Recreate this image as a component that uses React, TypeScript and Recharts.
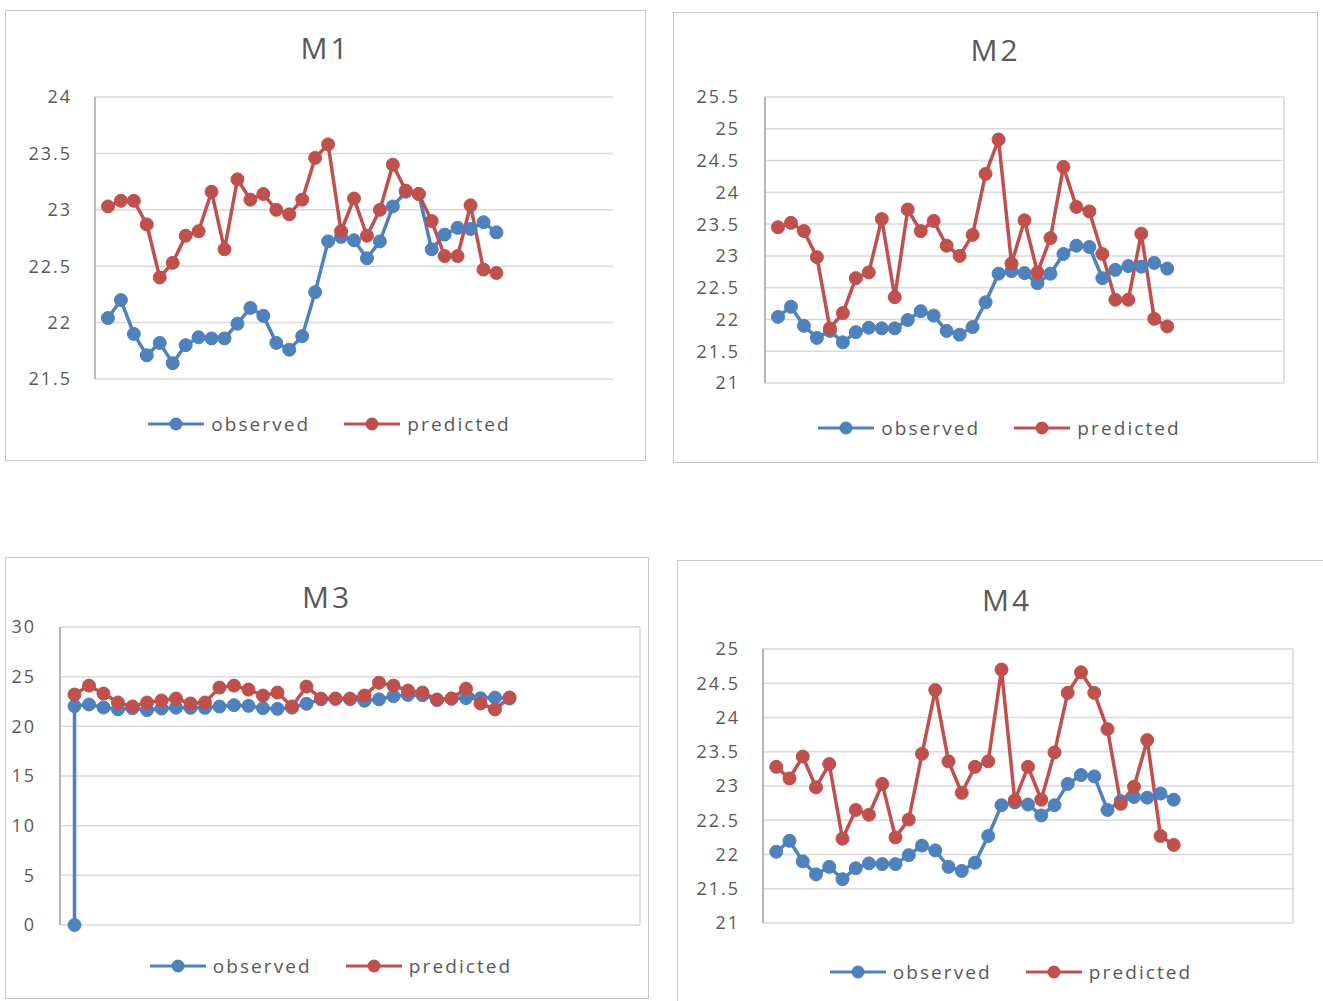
import React from 'react';
import { LineChart, Line, XAxis, YAxis, CartesianGrid } from 'recharts';

// observed values (same in every panel)
const observed = [
  22.04, 22.2, 21.9, 21.71, 21.82, 21.64, 21.8, 21.87, 21.86, 21.86,
  21.99, 22.13, 22.06, 21.82, 21.76, 21.88, 22.27, 22.72, 22.76, 22.73,
  22.57, 22.72, 23.03, 23.16, 23.14, 22.65, 22.78, 22.84, 22.83, 22.89, 22.8,
];

const predictedM1 = [
  23.03, 23.08, 23.08, 22.87, 22.4, 22.53, 22.77, 22.81, 23.16, 22.65,
  23.27, 23.09, 23.14, 23.0, 22.96, 23.09, 23.46, 23.58, 22.81, 23.1,
  22.77, 23.0, 23.4, 23.17, 23.14, 22.9, 22.59, 22.59, 23.04, 22.47, 22.44,
];

const predictedM2 = [
  23.45, 23.52, 23.39, 22.98, 21.86, 22.1, 22.65, 22.74, 23.58, 22.35,
  23.73, 23.39, 23.55, 23.16, 23.0, 23.33, 24.29, 24.83, 22.88, 23.56,
  22.74, 23.28, 24.4, 23.77, 23.7, 23.03, 22.31, 22.31, 23.35, 22.01, 21.89,
];

const predictedM3 = [
  23.2, 24.1, 23.3, 22.4, 22.0, 22.4, 22.6, 22.8, 22.3, 22.4,
  23.9, 24.1, 23.7, 23.1, 23.4, 22.0, 24.0, 22.8, 22.8, 22.8,
  23.1, 24.4, 24.1, 23.6, 23.4, 22.7, 22.8, 23.8, 22.3, 21.7, 22.9,
];

const predictedM4 = [
  23.28, 23.11, 23.43, 22.98, 23.32, 22.23, 22.65, 22.58, 23.03, 22.25,
  22.51, 23.47, 24.4, 23.36, 22.9, 23.28, 23.36, 24.7, 22.79, 23.28,
  22.8, 23.49, 24.36, 24.66, 24.36, 23.83, 22.74, 22.99, 23.67, 22.27, 22.14,
];

// M3 observed starts with an extra zero
const m3ObservedStart = 0;

const seriesNames = ['observed', 'predicted'];
const titles = ['M1', 'M2', 'M3', 'M4'];

const yTicksM1 = [21.5, 22, 22.5, 23, 23.5, 24];
const yTicksM2 = [21, 21.5, 22, 22.5, 23, 23.5, 24, 24.5, 25, 25.5];
const yTicksM3 = [0, 5, 10, 15, 20, 25, 30];
const yTicksM4 = [21, 21.5, 22, 22.5, 23, 23.5, 24, 24.5, 25];
const xTicks = [0, 10, 20, 30, 40];

const BLUE = '#4F81BD';
const RED = '#C0504D';
const TEXT = '#595959';
const FONT = '"Open Sans", "Noto Sans", sans-serif';

function makeRows(pred: number[]) {
  return observed.map((v, i) => ({ x: i + 1, observed: v, predicted: pred[i] }));
}

const panels = [
  {
    title: titles[0], rows: makeRows(predictedM1), yTicks: yTicksM1, vertical: false,
    left: 5, top: 10, width: 641, height: 451,
    plotLeft: 95, plotTop: 97, plotRight: 613, plotBottom: 379,
    labelGap: 23, titleY: 48, legendY: 424,
  },
  {
    title: titles[1], rows: makeRows(predictedM2), yTicks: yTicksM2, vertical: true,
    left: 673, top: 12, width: 645, height: 451,
    plotLeft: 765, plotTop: 97, plotRight: 1284, plotBottom: 383,
    labelGap: 25, titleY: 50, legendY: 428,
  },
  {
    title: titles[2],
    rows: [{ x: 1, observed: m3ObservedStart, predicted: null }, ...makeRows(predictedM3)],
    yTicks: yTicksM3, vertical: true,
    left: 5, top: 557, width: 644, height: 442,
    plotLeft: 60, plotTop: 627, plotRight: 640, plotBottom: 925,
    labelGap: 24, titleY: 597, legendY: 966,
  },
  {
    title: titles[3], rows: makeRows(predictedM4), yTicks: yTicksM4, vertical: true,
    left: 677, top: 560, width: 660, height: 460,
    plotLeft: 763, plotTop: 649, plotRight: 1293, plotBottom: 923,
    labelGap: 23, titleY: 600, legendY: 972,
  },
];

function LegendItem({ color, name }: { color: string; name: string }) {
  return (
    <div style={{ display: 'flex', alignItems: 'center', margin: '0 17px' }}>
      <svg width={56} height={14}>
        <line x1={0} y1={7} x2={56} y2={7} stroke={color} strokeWidth={3} />
        <circle cx={28} cy={7} r={6.5} fill={color} />
      </svg>
      <span style={{ marginLeft: 7, fontSize: 19, letterSpacing: 2.1, color: TEXT, fontFamily: FONT }}>{name}</span>
    </div>
  );
}

function Panel({ p }: { p: any }) {
  const yAxisWidth = 60;
  const ox = p.left + 1;
  const oy = p.top + 1;
  const innerW = p.width - 2;
  const innerH = p.height - 2;
  const margin = {
    left: p.plotLeft - ox - yAxisWidth,
    top: p.plotTop - oy,
    right: innerW - (p.plotRight - ox),
    bottom: innerH - (p.plotBottom - oy),
  };
  return (
    <div
      style={{
        position: 'absolute', left: p.left, top: p.top, width: p.width, height: p.height,
        border: '1px solid #C8C8C8', boxSizing: 'border-box', background: '#fff',
      }}
    >
      <div
        style={{
          position: 'absolute', left: 0, width: '100%', top: p.titleY - oy - 20,
          textAlign: 'center', fontSize: 30, letterSpacing: 3, color: TEXT, fontFamily: FONT, lineHeight: '40px',
        }}
      >
        {p.title}
      </div>
      <LineChart width={innerW} height={innerH} data={p.rows} margin={margin}>
        <CartesianGrid stroke="#D9D9D9" strokeWidth={1.5} vertical={p.vertical} />
        <XAxis
          type="number" dataKey="x" domain={[0, 40]} ticks={xTicks}
          tick={false} axisLine={false} tickLine={false} height={0}
        />
        <YAxis
          type="number" domain={[p.yTicks[0], p.yTicks[p.yTicks.length - 1]]} ticks={p.yTicks}
          interval={0} width={yAxisWidth} tickLine={false} tickSize={0} tickMargin={p.labelGap}
          axisLine={{ stroke: '#A6A6A6', strokeWidth: 1.5 }}
          tick={{ fill: TEXT, fontSize: 18, fontFamily: FONT, letterSpacing: 2 }}
        />
        <Line
          dataKey="observed" name={seriesNames[0]} stroke={BLUE} strokeWidth={3.5}
          dot={{ r: 6.5, fill: BLUE, stroke: BLUE, strokeWidth: 1 }} activeDot={false} isAnimationActive={false}
        />
        <Line
          dataKey="predicted" name={seriesNames[1]} stroke={RED} strokeWidth={3.5}
          dot={{ r: 6.5, fill: RED, stroke: RED, strokeWidth: 1 }} activeDot={false} isAnimationActive={false}
        />
      </LineChart>
      <div
        style={{
          position: 'absolute', left: 4, width: '100%', top: p.legendY - oy - 13, height: 26,
          display: 'flex', justifyContent: 'center', alignItems: 'center',
        }}
      >
        <LegendItem color={BLUE} name={seriesNames[0]} />
        <LegendItem color={RED} name={seriesNames[1]} />
      </div>
    </div>
  );
}

export default function App() {
  return (
    <div style={{ position: 'absolute', left: 0, top: 0, width: 1323, height: 1001, overflow: 'hidden', background: '#fff' }}>
      {panels.map((p) => (
        <Panel key={p.title} p={p} />
      ))}
    </div>
  );
}
